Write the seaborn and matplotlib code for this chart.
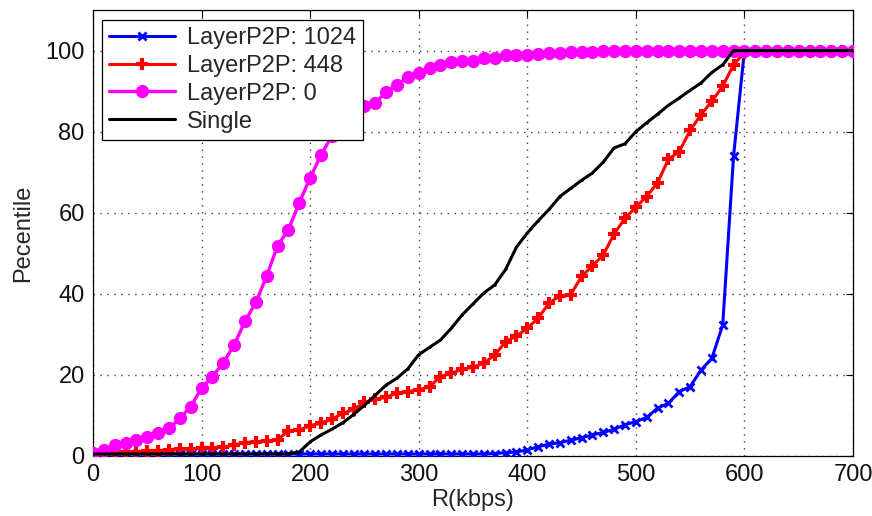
import matplotlib
matplotlib.use("Agg")
import matplotlib.pyplot as plt
import seaborn as sns
import numpy as np

R = list(range(0, 701, 10))

layer_0 = [0.8, 1.5, 2.7, 3.3, 4.0, 4.8, 5.6, 6.8, 9.3, 12.2,
           16.7, 19.6, 23.0, 27.4, 33.2, 37.9, 44.4, 51.9, 55.8, 62.5,
           68.6, 74.2, 79.0, 82.5, 85.0, 86.2, 87.1, 89.8, 91.6, 93.4,
           94.5, 95.7, 96.4, 97.2, 97.5, 97.5, 98.2, 98.2, 98.8, 98.8,
           99.0, 99.2, 99.4, 99.5, 99.6, 99.7, 99.7, 99.8, 99.8, 99.9,
           100, 100, 100, 100, 100, 100, 100, 100, 100, 100,
           100, 100, 100, 100, 100, 100, 100, 100, 100, 100, 100]

layer_448 = [0.3, 0.5, 0.7, 0.9, 1.0, 1.2, 1.3, 1.5, 1.7, 1.8,
             1.9, 2.0, 2.2, 2.7, 3.3, 3.5, 3.7, 4.0, 6.2, 6.4,
             7.5, 8.1, 9.1, 10.5, 11.5, 13.2, 14.0, 14.5, 15.5, 15.9,
             16.3, 17.1, 19.6, 20.4, 21.4, 21.9, 22.9, 24.9, 28.2, 29.6,
             31.5, 34.0, 37.7, 39.5, 39.8, 44.3, 46.9, 49.6, 54.8, 58.6,
             61.4, 64.0, 67.4, 73.2, 75.1, 80.3, 84.2, 87.5, 91.2, 96.5,
             99.5, 100, 100, 100, 100, 100, 100, 100, 100, 100, 100]

layer_1024 = [0.5, 0.5, 0.5, 0.5, 0.5, 0.5, 0.5, 0.5, 0.5, 0.5,
              0.5, 0.5, 0.5, 0.5, 0.5, 0.5, 0.5, 0.5, 0.5, 0.5,
              0.5, 0.5, 0.5, 0.5, 0.5, 0.5, 0.5, 0.5, 0.5, 0.5,
              0.5, 0.5, 0.5, 0.5, 0.5, 0.5, 0.5, 0.6, 0.8, 1.0,
              1.5, 2.3, 2.9, 3.3, 3.9, 4.5, 5.2, 5.8, 6.6, 7.7,
              8.5, 9.5, 11.8, 13.0, 15.9, 17.1, 21.2, 24.1, 32.3, 74.0,
              100, 100, 100, 100, 100, 100, 100, 100, 100, 100, 100]

single = [0.5, 0.5, 0.5, 0.5, 0.5, 0.5, 0.5, 0.5, 0.5, 0.5,
          0.5, 0.5, 0.5, 0.5, 0.5, 0.5, 0.5, 0.5, 0.5, 1.0,
          3.5, 5.2, 6.6, 8.2, 10.2, 12.5, 15.0, 17.5, 19.2, 21.5,
          25.0, 26.8, 28.6, 31.5, 34.8, 37.5, 40.2, 42.2, 46.0, 51.5,
          55.0, 58.0, 60.8, 64.0, 66.0, 68.0, 69.8, 72.5, 76.0, 77.0,
          80.0, 82.2, 84.3, 86.5, 88.3, 90.2, 92.0, 94.6, 96.5, 100,
          100, 100, 100, 100, 100, 100, 100, 100, 100, 100, 100]

x_ticks = [0, 100, 200, 300, 400, 500, 600, 700]
y_ticks = [0, 20, 40, 60, 80, 100]

sns.set_style("white")
plt.rcParams['font.family'] = ['Liberation Sans', 'DejaVu Sans']

fig = plt.figure(figsize=(8.72, 5.16), dpi=100)
ax = fig.add_axes([93/872, 1-456/516, 760/872, 446/516])

sns.lineplot(x=R, y=layer_1024, ax=ax, color='#0000ff', lw=2.2, marker='x',
             markersize=6, markeredgewidth=2, markeredgecolor='#0000ff',
             label='LayerP2P: 1024', zorder=3)
sns.lineplot(x=R, y=layer_448, ax=ax, color='#ff0000', lw=2.2, marker='+',
             markersize=8, markeredgewidth=3, markeredgecolor='#ff0000',
             label='LayerP2P: 448', zorder=4)
sns.lineplot(x=R, y=layer_0, ax=ax, color='#ff00ff', lw=2.4, marker='o',
             markersize=8, markeredgewidth=1.5, markeredgecolor='#ff00ff',
             label='LayerP2P: 0', zorder=5)
sns.lineplot(x=R, y=single, ax=ax, color='black', lw=2.2, marker='.',
             markersize=2, markeredgecolor='black',
             label='Single', zorder=6)

ax.set_xlim(0, 700)
ax.set_ylim(0, 110)
ax.set_xticks(x_ticks)
ax.set_yticks(y_ticks)
ax.tick_params(direction='in', length=5, width=0.8, top=True, right=True,
               labelsize=17, colors='black', pad=6)
ax.grid(True, color='0.25', linestyle=(0, (1, 4)), linewidth=1.0)
for s in ax.spines.values():
    s.set_color('black')
    s.set_linewidth(0.9)
for lab in ax.get_xticklabels() + ax.get_yticklabels():
    lab.set_color('#111111')

ax.set_xlabel('R(kbps)', fontsize=17, labelpad=2)
ax.set_ylabel('Pecentile', fontsize=17, labelpad=8)

leg = ax.legend(loc='upper left', bbox_to_anchor=(0.0118, 0.978), borderaxespad=0,
                fontsize=17, frameon=True, fancybox=False, edgecolor='black',
                handlelength=2.8, labelspacing=0.25, borderpad=0.3, handletextpad=0.5)
leg.get_frame().set_linewidth(0.9)
leg.get_frame().set_alpha(1)

fig.savefig('out.png', dpi=100)
